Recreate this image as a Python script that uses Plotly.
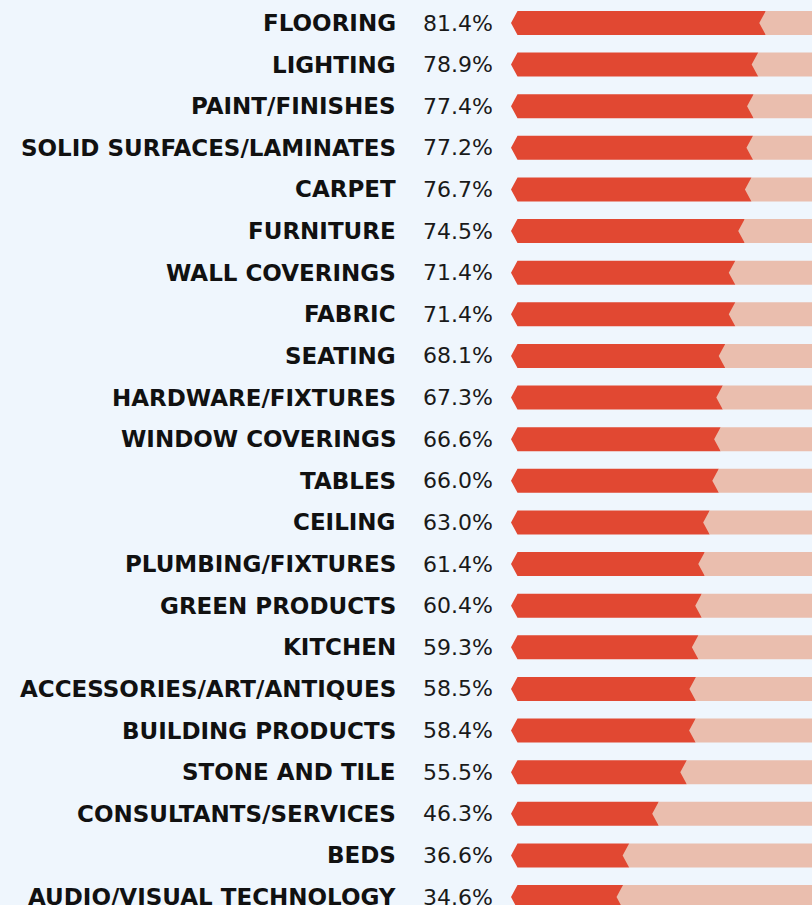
import plotly.graph_objects as go

categories = [
    "FLOORING", "LIGHTING", "PAINT/FINISHES", "SOLID SURFACES/LAMINATES", "CARPET",
    "FURNITURE", "WALL COVERINGS", "FABRIC", "SEATING", "HARDWARE/FIXTURES",
    "WINDOW COVERINGS", "TABLES", "CEILING", "PLUMBING/FIXTURES", "GREEN PRODUCTS",
    "KITCHEN", "ACCESSORIES/ART/ANTIQUES", "BUILDING PRODUCTS", "STONE AND TILE",
    "CONSULTANTS/SERVICES", "BEDS", "AUDIO/VISUAL TECHNOLOGY",
]
values = [81.4, 78.9, 77.4, 77.2, 76.7, 74.5, 71.4, 71.4, 68.1, 67.3, 66.6,
          66.0, 63.0, 61.4, 60.4, 59.3, 58.5, 58.4, 55.5, 46.3, 36.6, 34.6]
total = 100.0

W, H = 812, 905
PX_PER = 3.05        # pixels per percentage point
ZERO_PX = 517.5      # pixel position of 0%
ROW_PX = 41.62       # row pitch in pixels
FIRST_PX = 23.0      # centre of first row in pixels

x_range = [-ZERO_PX / PX_PER, (W - ZERO_PX) / PX_PER]
lo = -FIRST_PX / ROW_PX
hi = lo + H / ROW_PX

d = 6.5 / PX_PER     # chevron depth (data units)
h = 12.0 / ROW_PX    # half bar height (data units)

BG = "rgb(239,246,253)"
RED = "rgb(225,72,50)"
PINK = "rgb(234,190,174)"

red_x, red_y, pink_x, pink_y = [], [], [], []
for i, v in enumerate(values):
    red_x += [-d, 0, v, v, 0, -d, None]
    red_y += [i, i - h, i - h, i + h, i + h, i, None]
    pink_x += [v - d, v, total, total, v, v - d, None]
    pink_y += [i, i - h, i - h, i + h, i + h, i, None]

fig = go.Figure()
fig.add_trace(go.Scatter(x=red_x, y=red_y, mode="lines", fill="toself",
                         fillcolor=RED, line=dict(width=0, color=RED),
                         hoverinfo="skip", showlegend=False))
fig.add_trace(go.Scatter(x=pink_x, y=pink_y, mode="lines", fill="toself",
                         fillcolor=PINK, line=dict(width=0, color=PINK),
                         hoverinfo="skip", showlegend=False))

label_x = (397.5 - ZERO_PX) / PX_PER
pct_x = (494.5 - ZERO_PX) / PX_PER
for i, (c, v) in enumerate(zip(categories, values)):
    fig.add_annotation(x=label_x, y=i, text=c, showarrow=False,
                       xanchor="right", yanchor="middle",
                       font=dict(family="DejaVu Sans", size=23, color="#111111", weight="bold"))
    fig.add_annotation(x=pct_x, y=i, text=f"{v:.1f}%", showarrow=False,
                       xanchor="right", yanchor="middle",
                       font=dict(family="DejaVu Sans", size=22, color="#1a1a1a"))

fig.update_layout(
    width=W, height=H,
    margin=dict(l=0, r=0, t=0, b=0),
    paper_bgcolor=BG, plot_bgcolor=BG,
    xaxis=dict(range=x_range, visible=False, fixedrange=True),
    yaxis=dict(range=[hi, lo], visible=False, fixedrange=True),
    showlegend=False,
)

fig.write_html("out.html", config={"displayModeBar": False},
               post_script="document.body.style.margin='0';document.body.style.overflow='hidden';")
